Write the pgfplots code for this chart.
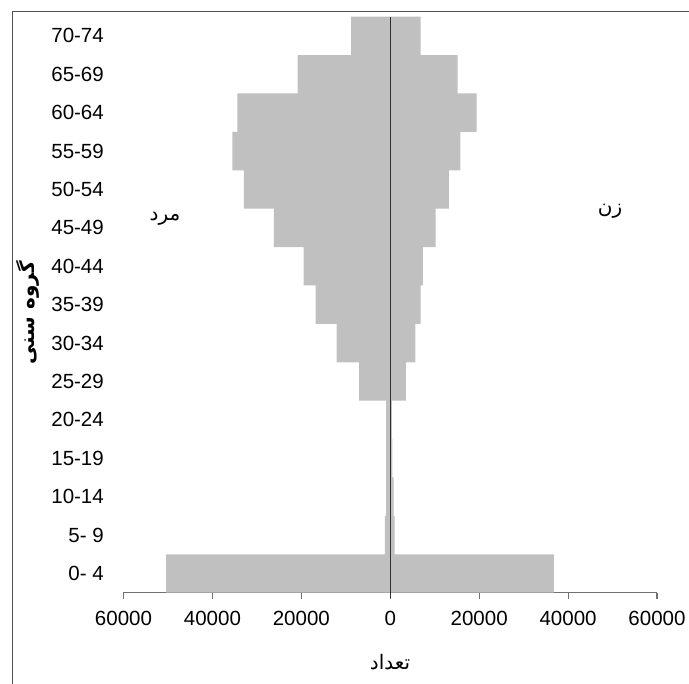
\documentclass[border=0pt]{standalone}
\usepackage{pgfplots}
\pgfplotsset{compat=1.18}
\usepackage{fontspec}
\setmainfont{Liberation Sans}
\newfontfamily\arabicfont[Script=Arabic]{DejaVu Sans}
\TeXXeTstate=1
\definecolor{barfill}{HTML}{C0C0C0}
\definecolor{axisgray}{HTML}{707070}
\definecolor{framegray}{HTML}{505050}
\definecolor{zeroline}{HTML}{303030}
\begin{document}
\begin{tikzpicture}[x=1pt,y=1pt]
\path[use as bounding box] (0,0) rectangle (689,684);
\draw[framegray, line width=1.2pt] (12.5,0) -- (12.5,672.3) -- (689,672.3);
\begin{axis}[
  at={(123.5pt,91.3pt)}, anchor=south west,
  scale only axis, width=533.5pt, height=576pt,
  xmin=-60000, xmax=60000, ymin=-0.5, ymax=14.5,
  xbar, bar width=1, bar shift=0pt,
  axis x line*=bottom, axis y line*=left,
  y axis line style={draw=none},
  x axis line style={-, draw=axisgray, line width=1.1pt},
  ytick style={draw=none},
  xtick style={draw=axisgray, line width=1.1pt},
  tick align=outside, major tick length=6pt,
  xtick={-60000,-40000,-20000,0,20000,40000,60000},
  xticklabels={60000,40000,20000,0,20000,40000,60000},
  scaled x ticks=false,
  ytick={0,...,14},
  yticklabels={0- 4,5- 9,10-14,15-19,20-24,25-29,30-34,35-39,40-44,45-49,50-54,55-59,60-64,65-69,70-74},
  tick label style={font=\fontsize{20.5}{24}\selectfont},
  xticklabel style={inner sep=0pt, anchor=north, yshift=-12pt},
  yticklabel style={inner sep=0pt, anchor=east, xshift=-13.5pt},
  clip=false,
]
\addplot[fill=barfill, draw=none] coordinates {
(-50440,0) (-1200,1) (-950,2) (-950,3) (-950,4) (-7000,5) (-12050,6) (-16800,7)
(-19480,8) (-26190,9) (-32920,10) (-35490,11) (-34410,12) (-20850,13) (-8780,14)};
\addplot[fill=barfill, draw=none] coordinates {
(36820,0) (1000,1) (750,2) (500,3) (350,4) (3490,5) (5650,6) (6850,7)
(7340,8) (10220,9) (13170,10) (15760,11) (19410,12) (15160,13) (6850,14)};
\draw[zeroline, line width=1.1pt] (axis cs:0,-0.65) -- (axis cs:0,14.5);
\end{axis}
\node[font=\fontsize{20}{24}\selectfont\arabicfont] at (165,465) {\beginR مرد\endR};
\node[font=\fontsize{20}{24}\selectfont\arabicfont] at (610,473) {\beginR زن\endR};
\node[font=\fontsize{20}{24}\selectfont\arabicfont] at (390,22) {\beginR تعداد\endR};
\node[font=\fontsize{20}{24}\selectfont\arabicfont\bfseries, rotate=90] at (28,371) {\beginR گروه سنی\endR};
\end{tikzpicture}
\end{document}
